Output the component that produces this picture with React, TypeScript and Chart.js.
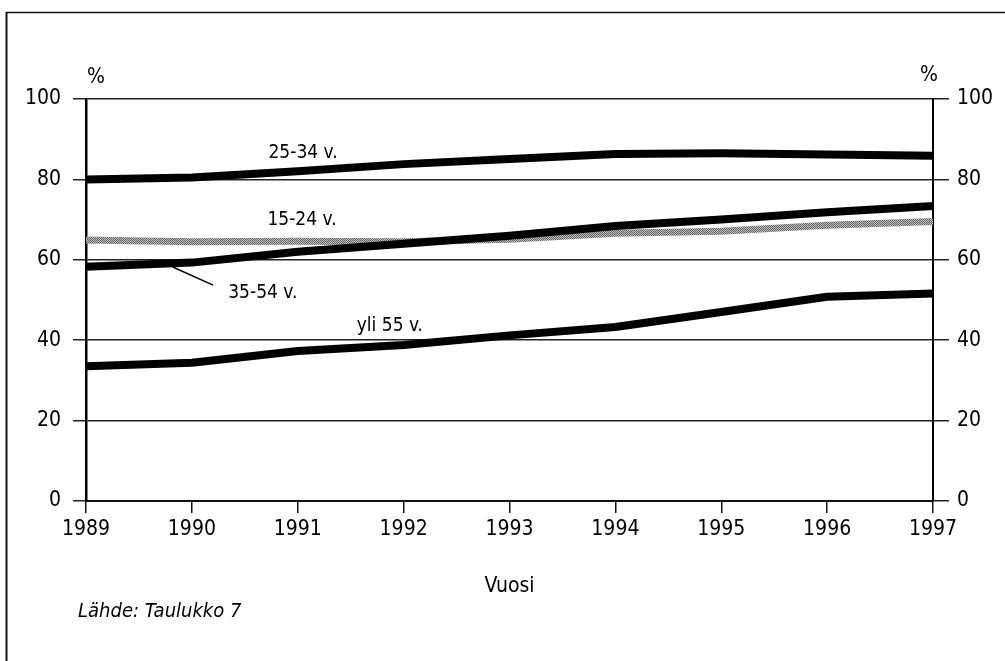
import React, { useEffect, useRef } from 'react';
import { Chart, registerables } from 'chart.js';
Chart.register(...registerables);

const years = ['1989', '1990', '1991', '1992', '1993', '1994', '1995', '1996', '1997'];
const age25_34 = [80, 80.5, 82, 83.8, 85.1, 86.3, 86.5, 86.2, 85.9];
const age15_24 = [64.9, 64.5, 64.6, 64.5, 65.1, 66.6, 67.1, 68.6, 69.5];
const age35_54 = [58.3, 59.3, 62, 64, 66, 68.4, 70, 71.8, 73.4];
const age55plus = [33.5, 34.4, 37.3, 38.8, 41.2, 43.3, 47, 50.8, 51.6];
const yTicks = [0, 20, 40, 60, 80, 100];
const seriesNames = ['25-34 v.', '15-24 v.', '35-54 v.', 'yli 55 v.'];
const xTitle = 'Vuosi';
const unitLabel = '%';
const sourceText = 'Lähde: Taulukko 7';

const FONT = "'Liberation Sans Narrow', 'DejaVu Sans Condensed', 'Roboto', sans-serif";

export default function App() {
  const ref = useRef<HTMLCanvasElement | null>(null);

  useEffect(() => {
    const canvas = ref.current;
    if (!canvas) return;

    const pc = document.createElement('canvas');
    pc.width = 2;
    pc.height = 2;
    const pctx = pc.getContext('2d')!;
    pctx.fillStyle = '#c4c4c4';
    pctx.fillRect(0, 0, 2, 2);
    pctx.fillStyle = '#5e5e5e';
    pctx.fillRect(0, 0, 1, 1);
    pctx.fillRect(1, 1, 1, 1);
    const ctx0 = canvas.getContext('2d')!;
    const grayPattern = ctx0.createPattern(pc, 'repeat') || '#999999';

    const annot = {
      id: 'annot',
      afterDraw(chart: any) {
        const { ctx, chartArea, scales } = chart;
        const x = scales.x;
        const y = scales.y;
        ctx.save();
        // frame
        ctx.strokeStyle = '#111';
        ctx.lineWidth = 1.5;
        ctx.beginPath();
        ctx.moveTo(6, 12.5);
        ctx.lineTo(1005, 12.5);
        ctx.stroke();
        ctx.lineWidth = 2;
        ctx.beginPath();
        ctx.moveTo(6.5, 12);
        ctx.lineTo(6.5, 661);
        ctx.stroke();

        ctx.fillStyle = '#000';
        ctx.textAlign = 'center';
        ctx.textBaseline = 'middle';
        ctx.font = `21px ${FONT}`;
        ctx.fillText(unitLabel, chartArea.left + 10, chartArea.top - 21);
        ctx.fillText(unitLabel, chartArea.right - 4, chartArea.top - 23);

        const lbl = (t: string, xi: number, v: number) => {
          ctx.fillText(t, x.getPixelForValue(xi), y.getPixelForValue(v));
        };
        ctx.font = `19px ${FONT}`;
        lbl(seriesNames[0], 2.05, 86.6);
        lbl(seriesNames[1], 2.04, 70.0);
        lbl(seriesNames[2], 1.67, 51.7);
        lbl(seriesNames[3], 2.87, 43.6);

        ctx.strokeStyle = '#000';
        ctx.lineWidth = 1.5;
        ctx.beginPath();
        ctx.moveTo(x.getPixelForValue(0.82), y.getPixelForValue(58.2));
        ctx.lineTo(x.getPixelForValue(1.2), y.getPixelForValue(53.7));
        ctx.stroke();

        ctx.font = `21px ${FONT}`;
        ctx.fillText(xTitle, (chartArea.left + chartArea.right) / 2, 587);
        ctx.textAlign = 'left';
        ctx.font = `italic 20px ${FONT}`;
        ctx.fillText(sourceText, 78, 612);
        ctx.restore();
      },
    };

    const chart = new Chart(canvas, {
      type: 'line',
      data: {
        labels: years,
        datasets: [
          { label: seriesNames[0], data: age25_34, borderColor: '#000', borderWidth: 8 },
          { label: seriesNames[2], data: age35_54, borderColor: '#000', borderWidth: 8 },
          { label: seriesNames[1], data: age15_24, borderColor: grayPattern as any, borderWidth: 7 },
          { label: seriesNames[3], data: age55plus, borderColor: '#000', borderWidth: 8 },
        ].map((d) => ({ ...d, pointRadius: 0, tension: 0, fill: false, borderCapStyle: 'butt', borderJoinStyle: 'round' })) as any,
      },
      options: {
        responsive: false,
        animation: false,
        layout: { padding: { top: 99, left: 0, right: 0, bottom: 0 } },
        plugins: { legend: { display: false }, tooltip: { enabled: false } },
        scales: {
          x: {
            type: 'category',
            offset: false,
            grid: { drawOnChartArea: false, drawTicks: true, tickLength: 12, color: '#111', lineWidth: 1.5 },
            border: { display: true, color: '#111', width: 2 },
            ticks: { color: '#000', font: { family: FONT, size: 21 }, padding: 4, maxRotation: 0, autoSkip: false },
            afterFit: (s: any) => { s.height = 160; },
          },
          y: {
            position: 'left',
            min: 0,
            max: 100,
            afterBuildTicks: (s: any) => { s.ticks = yTicks.map((v) => ({ value: v })); },
            grid: { drawOnChartArea: true, drawTicks: true, tickLength: 13, color: '#222', lineWidth: 1.5 },
            border: { display: true, color: '#000', width: 2.5 },
            ticks: { color: '#000', font: { family: FONT, size: 21 }, padding: 12 },
            afterFit: (s: any) => { s.width = 86; },
          },
          y2: {
            position: 'right',
            min: 0,
            max: 100,
            afterBuildTicks: (s: any) => { s.ticks = yTicks.map((v) => ({ value: v })); },
            grid: { drawOnChartArea: false, drawTicks: true, tickLength: 16, color: '#222', lineWidth: 1.5 },
            border: { display: true, color: '#000', width: 2 },
            ticks: { color: '#000', font: { family: FONT, size: 21 }, padding: 8 },
            afterFit: (s: any) => { s.width = 72; },
          },
        },
      },
      plugins: [annot],
    });
    return () => chart.destroy();
  }, []);

  return (
    <div style={{ position: 'fixed', left: 0, top: 0, width: 1005, height: 661, background: '#fff' }}>
      <canvas ref={ref} width={1005} height={661} style={{ display: 'block' }} />
    </div>
  );
}
